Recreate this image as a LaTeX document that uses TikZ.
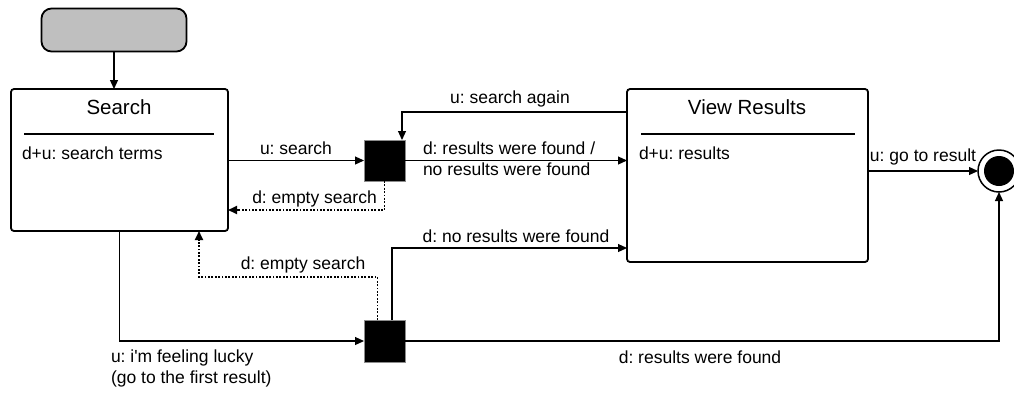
\documentclass[tikz,border=0pt]{standalone}
\usepackage{fontspec}
\setmainfont{Liberation Sans}
\usetikzlibrary{arrows.meta,calc}
\begin{document}
\frenchspacing
\begin{tikzpicture}[x=1pt,y=-1pt,
  every node/.style={inner sep=0pt,outer sep=0pt,font=\fontsize{17.5}{21}\selectfont},
  state/.style={draw,line width=1.8pt,rounded corners=3pt,fill=white},
  startbox/.style={draw,line width=1.8pt,rounded corners=10pt,fill=black!25,minimum width=145pt,minimum height=43pt},
  junction/.style={draw=black!45,line width=0.6pt,fill=black,minimum size=41pt},
  title/.style={font=\fontsize{20.5}{24}\selectfont},
  lbl/.style={text=black},
  arr/.style={line width=1.2pt,-{Triangle[length=9pt,width=8pt]}},
  emptyarr/.style={arr,line width=1.8pt,dash pattern=on 1.8pt off 1.6pt},
  divider/.style={line width=1.1pt}]
\useasboundingbox (0,0) rectangle (1014,392);

% states
\node[startbox] (start) at (114,30) {};
\node[state,minimum width=217pt,minimum height=142pt] (search) at (119.5,160) {};
\node[state,minimum width=241pt,minimum height=173pt] (view) at (747.5,175.5) {};
\node[junction] (j1) at (384.5,160.5) {};
\node[junction,minimum height=42pt] (j2) at (384.5,341) {};
\node[draw,circle,line width=1.5pt,minimum size=42pt,fill=white] (final) at (999,171) {};
\node[circle,fill=black,minimum size=30pt] (finaldot) at (final) {};

% compartments
\node[title] (searchT) at (119,107) {Search};
\draw[divider] (24,134) -- (214,134);
\node[lbl,anchor=west] (searchA) at (22,153) {d+u: search terms};
\node[title] (viewT) at (747,107) {View Results};
\draw[divider] (641,134) -- (855,134);
\node[lbl,anchor=west] (viewA) at (639,153) {d+u: results};

% transitions
\draw[arr] (start.south) -- (search.north -| start.south);
\draw[arr] (j1.west -| search.east) -- (j1.west);
\draw[arr] ([yshift=63.5pt]view.west) -| ([xshift=-3pt]j1.north east);
\draw[arr] (j1.east) -- (j1.east -| view.west);
\draw[emptyarr] (j1.south) |- ([yshift=-50pt]search.east);
\draw[arr] (final.west -| view.east) -- (final.west);
\draw[arr] (search.south) |- (j2.west);
\draw[emptyarr] ([xshift=-7pt]j2.north) -- ++(0,-43) -| ([xshift=79.5pt]search.south);
\draw[arr] ([xshift=7.5pt]j2.north) |- ([yshift=-72.5pt]view.west);
\draw[arr] (j2.east) -| (final.south);

% transition labels
\node[lbl] (l1) at (296,148) {u: search};
\node[lbl] (l2) at (510,99) {u: search again};
\node[lbl,anchor=west,align=left] (l3) at (423,158.5) {d: results were found /\\no results were found};
\node[lbl] (l4) at (314.5,199) {d: empty search};
\node[lbl] (l5) at (923,157) {u: go to result};
\node[lbl] (l6) at (516,236) {d: no results were found};
\node[lbl] (l7) at (303,265) {d: empty search};
\node[lbl,anchor=west,align=left] (l8) at (111,368) {u: i\textquotesingle m feeling lucky\\(go to the first result)};
\node[lbl] (l9) at (700,357) {d: results were found};
\end{tikzpicture}
\end{document}
